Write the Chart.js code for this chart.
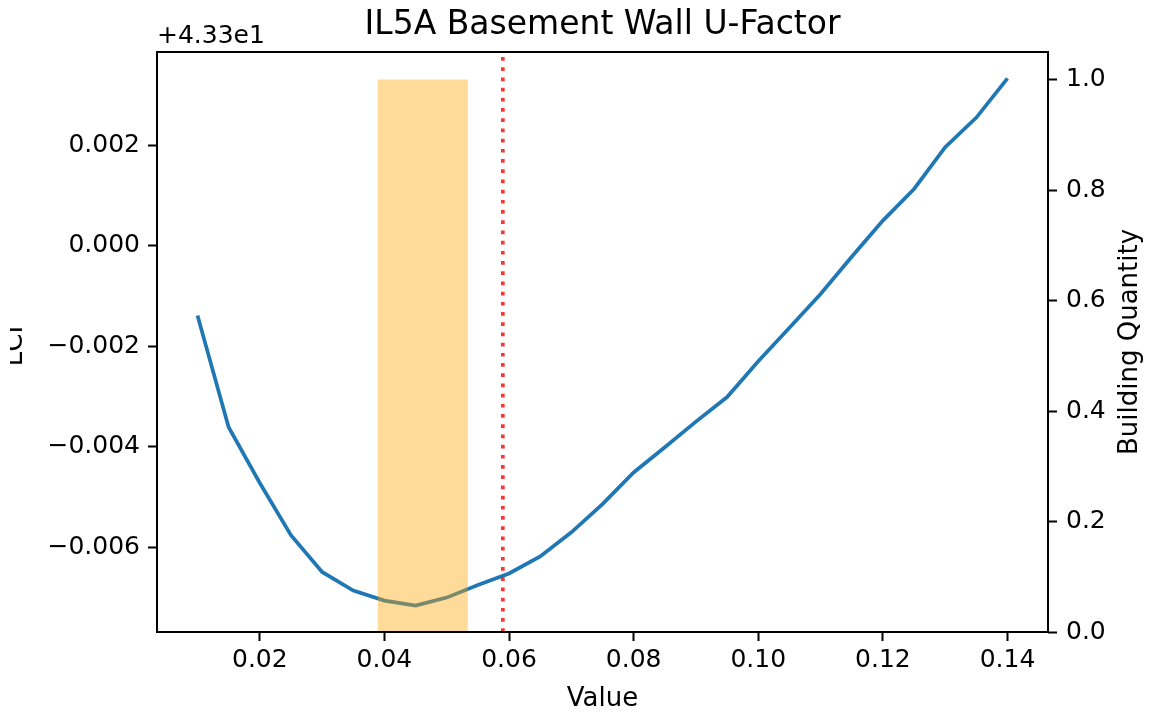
<!DOCTYPE html>
<html>
<head>
<meta charset="utf-8">
<title>IL5A Basement Wall U-Factor</title>
<script src="https://cdn.jsdelivr.net/npm/chart.js@4.4.1/dist/chart.umd.min.js"></script>
<style>
  html, body { margin: 0; padding: 0; background: #ffffff; }
  #wrap { width: 1150px; height: 715px; }
</style>
</head>
<body>
<div id="wrap"><canvas id="chart" width="1150" height="715"></canvas></div>
<script>
// Basement wall U-factor sweep and the resulting life-cycle metric
const uFactor = [0.010, 0.015, 0.020, 0.025, 0.030, 0.035, 0.040, 0.045, 0.050,
                 0.055, 0.060, 0.065, 0.070, 0.075, 0.080, 0.085, 0.090, 0.095,
                 0.100, 0.105, 0.110, 0.115, 0.120, 0.125, 0.130, 0.135, 0.140];
const lci = [43.29861, 43.29639, 43.29528, 43.29424, 43.29351, 43.29314, 43.29294, 43.29284, 43.29300,
             43.29325, 43.29348, 43.29382, 43.29430, 43.29486, 43.29549, 43.29599, 43.29650, 43.29699,
             43.29770, 43.29837, 43.29904, 43.29978, 43.30050, 43.30113, 43.30196, 43.30255, 43.30333];
const LCI_OFFSET = 43.3;

// Current code value and the histogram of buildings
const codeU = 0.059;
const qtyBinEdges = [0.0389, 0.0534];
const qtyCounts = [1];

// Tick positions
const xTicks = [0.02, 0.04, 0.06, 0.08, 0.10, 0.12, 0.14];
const lciTicks = [-0.006, -0.004, -0.002, 0.000, 0.002];
const qtyTicks = [0.0, 0.2, 0.4, 0.6, 0.8, 1.0];

const TITLE = 'IL5A Basement Wall U-Factor';
const X_TITLE = 'Value';
const Y_TITLE = 'LCI';
const Y2_TITLE = 'Building Quantity';

// Axis limits with 5% margins around the data (counts start flush at zero)
function padded(lo, hi) { const p = (hi - lo) * 0.05; return [lo - p, hi + p]; }
const [xMin, xMax] = padded(Math.min(...uFactor), Math.max(...uFactor));
const [yMin, yMax] = padded(Math.min(...lci), Math.max(...lci));
const y2Min = 0;
const y2Max = padded(0, Math.max(...qtyCounts))[1];

const FONT = '"DejaVu Sans", "Liberation Sans", sans-serif';
const MINUS = '\u2212';
const fmt = (v, d) => { const s = v.toFixed(d); return s.startsWith('-') ? MINUS + s.slice(1) : s; };

const lineData = uFactor.map((x, i) => ({ x, y: lci[i] }));
const codeLine = [{ x: codeU, y: yMin }, { x: codeU, y: yMax }];
const barOutline = [];
qtyCounts.forEach((c, i) => {
  barOutline.push({ x: qtyBinEdges[i], y: 0 }, { x: qtyBinEdges[i], y: c },
                  { x: qtyBinEdges[i + 1], y: c }, { x: qtyBinEdges[i + 1], y: 0 });
});

// Frame, title, offset text and rotated axis titles
const decorations = {
  id: 'decorations',
  afterDraw(chart) {
    const { ctx, chartArea: a } = chart;
    ctx.save();
    ctx.strokeStyle = '#000';
    ctx.lineWidth = 2;
    ctx.strokeRect(a.left, a.top, a.right - a.left, a.bottom - a.top);

    ctx.fillStyle = '#000';
    ctx.textBaseline = 'alphabetic';
    ctx.font = '33px ' + FONT;
    ctx.textAlign = 'center';
    ctx.fillText(TITLE, (a.left + a.right) / 2, 34);

    ctx.font = '25px ' + FONT;
    ctx.textAlign = 'left';
    ctx.fillText('+' + LCI_OFFSET.toExponential(2).replace('e+', 'e'), a.left, 43);

    ctx.save();
    ctx.font = '26px ' + FONT;
    ctx.translate(1137, (a.top + a.bottom) / 2);
    ctx.rotate(-Math.PI / 2);
    ctx.textAlign = 'center';
    ctx.fillText(Y2_TITLE, 0, 0);
    ctx.restore();

    // the left axis title sits partly beyond the left margin
    ctx.save();
    ctx.beginPath();
    ctx.rect(10, 0, a.left - 10, chart.height);
    ctx.clip();
    ctx.font = '26px ' + FONT;
    ctx.translate(22, 346);
    ctx.rotate(-Math.PI / 2);
    ctx.textAlign = 'center';
    ctx.fillText(Y_TITLE, 0, 0);
    ctx.restore();

    ctx.restore();
  }
};

const tickGrid = { display: true, drawOnChartArea: false, drawTicks: true, tickLength: 9, tickWidth: 2, tickColor: '#000', color: '#000' };

new Chart(document.getElementById('chart'), {
  type: 'line',
  data: {
    datasets: [
      {
        label: 'LCI',
        data: lineData,
        xAxisID: 'x', yAxisID: 'y',
        borderColor: '#1f77b4',
        borderWidth: 3.7,
        pointRadius: 0,
        tension: 0,
        fill: false,
        order: 3
      },
      {
        label: 'Code value',
        data: codeLine,
        xAxisID: 'x', yAxisID: 'y',
        borderColor: 'rgba(255,0,0,0.8)',
        borderWidth: 3.7,
        borderDash: [3.7, 6.5],
        borderCapStyle: 'butt',
        pointRadius: 0,
        fill: false,
        order: 2
      },
      {
        label: 'Building Quantity',
        data: barOutline,
        xAxisID: 'x', yAxisID: 'y2',
        borderColor: 'transparent',
        borderWidth: 0,
        backgroundColor: 'rgba(255,165,0,0.4)',
        pointRadius: 0,
        tension: 0,
        fill: 'origin',
        order: 1
      }
    ]
  },
  options: {
    responsive: false,
    animation: false,
    devicePixelRatio: 1,
    layout: { padding: { top: 52, left: 0, right: 0, bottom: 0 } },
    plugins: { legend: { display: false }, tooltip: { enabled: false }, title: { display: false } },
    scales: {
      x: {
        type: 'linear',
        position: 'bottom',
        min: xMin, max: xMax,
        border: { display: false },
        grid: tickGrid,
        afterBuildTicks: s => { s.ticks = xTicks.map(v => ({ value: v })); },
        afterFit: s => { s.height = 83; },
        ticks: { autoSkip: false, maxRotation: 0, padding: 4, color: '#000', font: { family: FONT, size: 25 },
                 callback: v => fmt(v, 2) },
        title: { display: true, text: X_TITLE, color: '#000', font: { family: FONT, size: 26 },
                 padding: { top: 0, bottom: 0 } }
      },
      y: {
        type: 'linear',
        position: 'left',
        min: yMin, max: yMax,
        border: { display: false },
        grid: tickGrid,
        afterBuildTicks: s => { s.ticks = lciTicks.map(v => ({ value: LCI_OFFSET + v })); },
        afterFit: s => { s.width = 157; },
        ticks: { autoSkip: false, padding: 8, color: '#000', font: { family: FONT, size: 25 },
                 callback: v => fmt(v - LCI_OFFSET, 3) }
      },
      y2: {
        type: 'linear',
        position: 'right',
        min: y2Min, max: y2Max,
        border: { display: false },
        grid: tickGrid,
        afterBuildTicks: s => { s.ticks = qtyTicks.map(v => ({ value: v })); },
        afterFit: s => { s.width = 102; },
        ticks: { autoSkip: false, padding: 9, color: '#000', font: { family: FONT, size: 25 },
                 callback: v => fmt(v, 1) }
      }
    }
  },
  plugins: [decorations]
});
</script>
</body>
</html>
